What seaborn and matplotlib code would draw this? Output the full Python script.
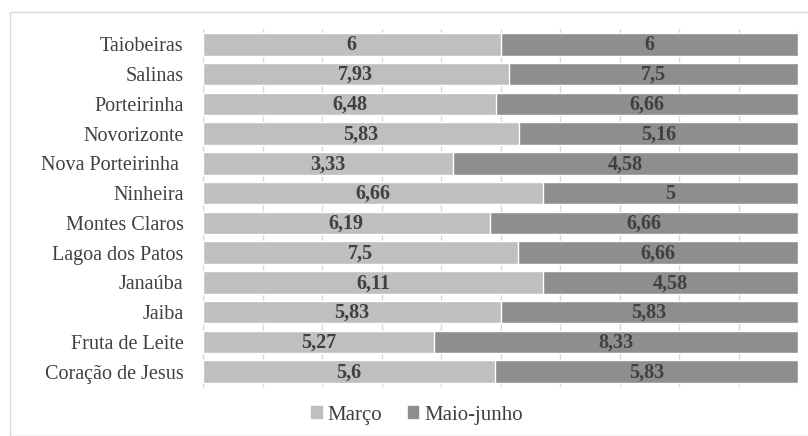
import matplotlib
matplotlib.use("Agg")
import matplotlib.pyplot as plt
import matplotlib.patches as mpatches
from matplotlib.ticker import FixedLocator
import numpy as np
import pandas as pd
import seaborn as sns

municipios = ["Taiobeiras", "Salinas", "Porteirinha", "Novorizonte", "Nova Porteirinha ",
              "Ninheira", "Montes Claros", "Lagoa dos Patos", "Janaúba", "Jaiba",
              "Fruta de Leite", "Coração de Jesus"]
marco = [6, 7.93, 6.48, 5.83, 3.33, 6.66, 6.19, 7.5, 6.11, 5.83, 5.27, 5.6]
maio_junho = [6, 7.5, 6.66, 5.16, 4.58, 5, 6.66, 6.66, 4.58, 5.83, 8.33, 5.83]
series_names = ["Março", "Maio-junho"]

cor_marco = "#BFBFBF"
cor_maio = "#8E8E8E"
cor_texto = "#404040"
cor_grade = "#D9D9D9"
serif = ["Liberation Serif", "DejaVu Serif"]

sns.set_style("white")
plt.rcParams["font.family"] = serif

df = pd.DataFrame({"municipio": municipios, "marco": marco, "maio": maio_junho})
df["total"] = df["marco"] + df["maio"]
df["pct_marco"] = df["marco"] / df["total"] * 100
df["pct_total"] = 100.0

fig = plt.figure(figsize=(8.08, 4.36), dpi=100)
ax = fig.add_axes([203 / 808, 1 - 386.5 / 436, 595 / 808, 357 / 436])

# 100% stacked bars: full bar in the second series colour, first series on top
sns.barplot(data=df, y="municipio", x="pct_total", color=cor_maio, orient="h",
            width=0.76, saturation=1, ax=ax, zorder=2)
sns.barplot(data=df, y="municipio", x="pct_marco", color=cor_marco, orient="h",
            width=0.76, saturation=1, ax=ax, zorder=3)

def fmt(v):
    s = f"{v:.2f}".rstrip("0").rstrip(".")
    return s.replace(".", ",")

for i, row in df.iterrows():
    ax.text(row["pct_marco"] / 2, i + 0.03, fmt(row["marco"]), ha="center", va="center",
            fontsize=14.5, fontweight="bold", color=cor_texto, zorder=4)
    ax.text((row["pct_marco"] + 100) / 2, i + 0.03, fmt(row["maio"]), ha="center", va="center",
            fontsize=14.5, fontweight="bold", color=cor_texto, zorder=4)

ax.set_xlim(0, 100)
ax.set_ylim(len(df) - 0.5, -0.5)
ax.set_xticks(np.arange(0, 101, 10))
ax.xaxis.grid(True, color=cor_grade, linewidth=1, zorder=0)
ax.set_axisbelow(True)
ax.tick_params(axis="x", length=0, labelbottom=False)
ax.set_xlabel("")
ax.set_ylabel("")
ax.tick_params(axis="y", which="major", length=0, labelsize=14.5, labelcolor=cor_texto, pad=14)
ax.yaxis.set_minor_locator(FixedLocator(np.arange(-0.5, len(df), 1)))
ax.tick_params(axis="y", which="minor", length=6, color=cor_grade, width=1)
for side in ["top", "right", "bottom"]:
    ax.spines[side].set_visible(False)
ax.spines["left"].set_color(cor_grade)

handles = [mpatches.Patch(color=cor_marco, label=series_names[0]),
           mpatches.Patch(color=cor_maio, label=series_names[1])]
fig.legend(handles=handles, loc="center", bbox_to_anchor=(417 / 808, 1 - 415 / 436), ncol=2,
           frameon=False, prop={"family": serif, "size": 15}, handlelength=0.5,
           handleheight=0.5, handletextpad=0.3, columnspacing=1.2, labelcolor=cor_texto)

fig.patches.append(mpatches.Rectangle((10 / 808, 0), 1, 1 - 12 / 436, transform=fig.transFigure,
                                      fill=False, edgecolor=cor_grade, linewidth=1))

fig.savefig("out.png", dpi=100)
